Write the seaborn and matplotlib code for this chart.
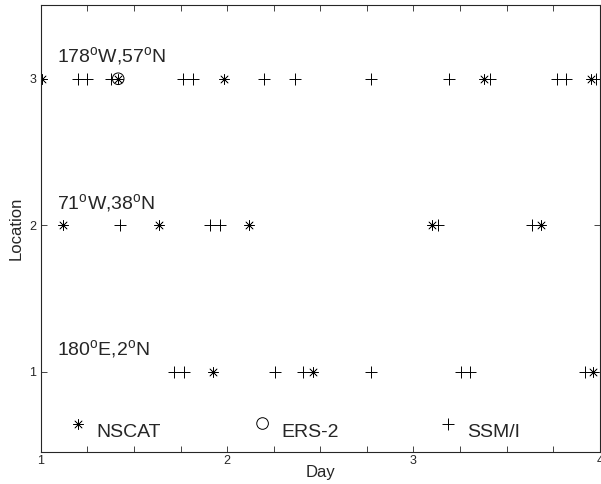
import pandas as pd
import matplotlib
matplotlib.use("Agg")
import matplotlib.pyplot as plt
import seaborn as sns

nscat_loc3 = [1.005, 1.415, 1.984, 3.377, 3.952]
nscat_loc2 = [1.12, 1.635, 2.116, 3.102, 3.684]
nscat_loc1 = [1.922, 2.458, 3.964]

ers_loc3 = [1.415]

ssmi_loc3 = [1.197, 1.245, 1.379, 1.764, 1.817, 2.198, 2.363, 2.771, 3.191,
             3.41, 3.771, 3.821, 3.982]
ssmi_loc2 = [1.424, 1.907, 1.961, 3.132, 3.634]
ssmi_loc1 = [1.714, 1.768, 2.256, 2.405, 2.771, 3.253, 3.302, 3.921]

site_labels = ["180$^{\\rm o}$E,2$^{\\rm o}$N",
               "71$^{\\rm o}$W,38$^{\\rm o}$N",
               "178$^{\\rm o}$W,57$^{\\rm o}$N"]
sensor_names = ["NSCAT", "ERS-2", "SSM/I"]


def to_frame(*rows):
    recs = []
    for loc, days in rows:
        recs += [{"Day": d, "Location": loc} for d in days]
    return pd.DataFrame(recs)


nscat = to_frame((3, nscat_loc3), (2, nscat_loc2), (1, nscat_loc1))
ers = to_frame((3, ers_loc3))
ssmi = to_frame((3, ssmi_loc3), (2, ssmi_loc2), (1, ssmi_loc1))

sns.set_style("ticks")
plt.rcParams["font.family"] = ["Liberation Sans", "DejaVu Sans"]
plt.rcParams["mathtext.fontset"] = "custom"
plt.rcParams["mathtext.rm"] = "Liberation Sans"

fig = plt.figure(figsize=(6.01, 4.84), dpi=100)
ax = fig.add_axes([0.068, 0.066, 0.93, 0.924])

asterisk = (8, 2, 0)
sns.scatterplot(data=nscat, x="Day", y="Location", marker=asterisk, s=50,
                color="k", linewidth=0.5, ax=ax)
sns.scatterplot(data=ers, x="Day", y="Location", marker="o", s=70,
                facecolor="none", edgecolor="k", linewidth=0.7, ax=ax)
sns.scatterplot(data=ssmi, x="Day", y="Location", marker="+", s=65,
                color="k", linewidth=0.7, ax=ax)

# site names above each row
for loc, lab in zip([1, 2, 3], site_labels):
    ax.text(1.085, loc + 0.15, lab, fontsize=14, va="center", ha="left")

# hand-made legend along the bottom
leg_x = [1.197, 2.19, 3.187]
leg_m = [asterisk, "o", "+"]
for x0, m, name in zip(leg_x, leg_m, sensor_names):
    if m == "o":
        ax.scatter([x0], [0.645], marker=m, s=70, facecolor="none",
                   edgecolor="k", linewidth=0.7)
    elif m == "+":
        ax.scatter([x0], [0.645], marker=m, s=65, color="k", linewidth=0.7)
    else:
        ax.scatter([x0], [0.645], marker=m, s=50, color="k", linewidth=0.5)
    ax.text(x0 + 0.1, 0.585, name, fontsize=14, va="center", ha="left")

ax.set_xlim(1, 4)
ax.set_ylim(0.45, 3.505)
ax.set_xticks([1, 2, 3, 4])
ax.set_xticks([1.25, 1.5, 1.75, 2.25, 2.5, 2.75, 3.25, 3.5, 3.75], minor=True)
ax.set_yticks([1, 2, 3])
ax.tick_params(which="both", direction="in", top=True, right=True,
               labelsize=9, length=4, width=0.6)
ax.tick_params(axis="x", pad=2)
ax.set_xlabel("Day", fontsize=12, labelpad=-1)
ax.set_ylabel("Location", fontsize=12, labelpad=4)
for sp in ax.spines.values():
    sp.set_linewidth(0.8)

fig.savefig("out.png", dpi=100)
